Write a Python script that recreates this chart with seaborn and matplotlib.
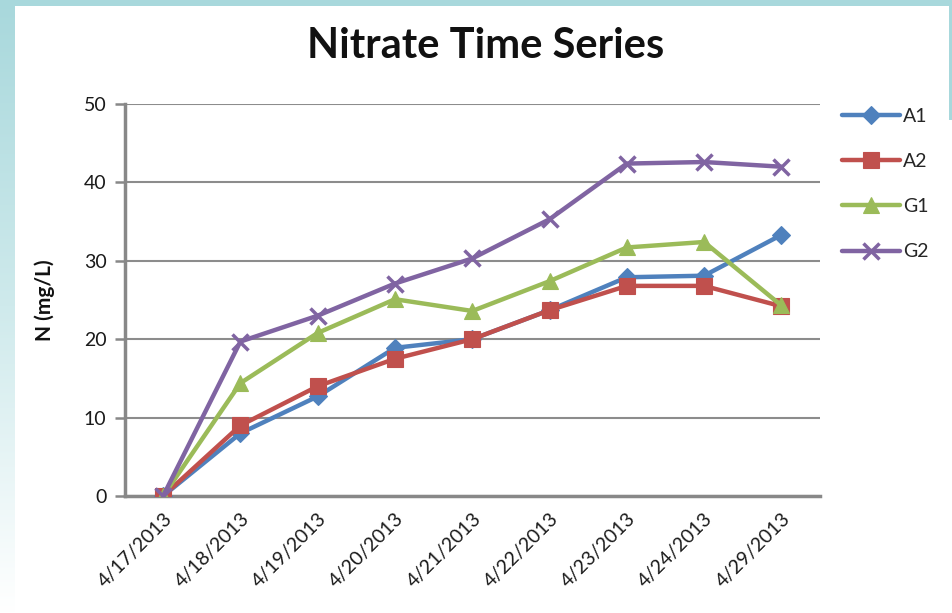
import numpy as np
import pandas as pd
import matplotlib
matplotlib.use("Agg")
import matplotlib.pyplot as plt
from matplotlib.colors import LinearSegmentedColormap
import seaborn as sns

# Sampling dates and nitrate concentrations (mg/L) per site
dates = ["4/17/2013", "4/18/2013", "4/19/2013", "4/20/2013", "4/21/2013",
         "4/22/2013", "4/23/2013", "4/24/2013", "4/29/2013"]
a1 = [0.0, 8.0, 12.7, 18.9, 20.0, 23.7, 27.9, 28.1, 33.3]
a2 = [0.0, 9.0, 14.0, 17.5, 20.0, 23.7, 26.8, 26.8, 24.2]
g1 = [0.0, 14.4, 20.8, 25.1, 23.6, 27.4, 31.7, 32.4, 24.3]
g2 = [0.0, 19.7, 23.0, 27.1, 30.3, 35.3, 42.4, 42.6, 42.0]
series_names = ["A1", "A2", "G1", "G2"]
y_ticks = [0, 10, 20, 30, 40, 50]

pos = np.arange(len(dates))
df = pd.DataFrame({"pos": np.tile(pos, 4),
                   "date": dates * 4,
                   "N": a1 + a2 + g1 + g2,
                   "site": np.repeat(series_names, len(dates))})

colors = {"A1": "#4F81BD", "A2": "#C0504D", "G1": "#9BBB59", "G2": "#8064A2"}
markers = {"A1": "D", "A2": "s", "G1": "^", "G2": "x"}
msizes = {"A1": 9, "A2": 11, "G1": 12, "G2": 12}

sns.set_style("white")
plt.rcParams["font.family"] = ["Lato", "DejaVu Sans"]

fig = plt.figure(figsize=(9.52, 6.13), dpi=100)
fig.patch.set_facecolor("white")

# Teal slide frame: top band, fading left band, thin right edge
teal = "#a8d8dc"
bg = fig.add_axes([0, 0, 1, 1], zorder=-10)
bg.set_xlim(0, 952)
bg.set_ylim(613, 0)
bg.axis("off")
fade = LinearSegmentedColormap.from_list("fade", [teal, "#cfeaec", "#ffffff"])
grad = np.linspace(0, 1, 256).reshape(-1, 1)
bg.imshow(grad, cmap=fade, extent=[0, 15, 613, 0], aspect="auto")
bg.fill_between([0, 952], 0, 6, color=teal, lw=0)
bg.fill_between([949, 952], 0, 120, color=teal, lw=0)

ax = fig.add_axes([124.5 / 952, 1 - 496 / 613, (820 - 124.5) / 952, 392 / 613])
ax.set_facecolor("none")

for name in series_names:
    sub = df[df["site"] == name]
    sns.lineplot(data=sub, x="pos", y="N", ax=ax, color=colors[name],
                 marker=markers[name], markersize=msizes[name],
                 markeredgewidth=2.5 if name == "G2" else 0.8,
                 markeredgecolor=colors[name], linewidth=3.2,
                 label=name, zorder=3)

ax.set_xlim(-0.5, len(dates) - 0.5)
ax.set_ylim(0, 50)
ax.set_yticks(y_ticks)
ax.set_yticklabels([str(t) for t in y_ticks], fontsize=14, color="#1a1a1a")
ax.set_xticks(pos)
ax.set_xticklabels(dates, rotation=45, ha="right", rotation_mode="anchor",
                   fontsize=14, color="#1a1a1a")
ax.set_xticks(np.arange(-0.5, len(dates), 1.0), minor=True)
ax.tick_params(axis="x", which="major", length=0, pad=10)
ax.tick_params(axis="x", which="minor", length=7, width=1.8, color="#888888",
               direction="out")
ax.tick_params(axis="y", length=7, width=1.8, color="#888888", direction="out",
               pad=6, left=True)

ax.grid(axis="y", color="#8c8c8c", linewidth=1.5)
ax.set_axisbelow(True)
for side in ["top", "right"]:
    ax.spines[side].set_visible(False)
for side in ["left", "bottom"]:
    ax.spines[side].set_color("#888888")
    ax.spines[side].set_linewidth(2.5)
ax.set_xlabel("")
ax.set_ylabel("")

fig.text(45 / 952, 1 - 300 / 613, "N (mg/L)", rotation=90, ha="center",
         va="center", fontsize=15, fontweight="bold", color="#111111")
fig.text(486 / 952, 1 - 46 / 613, "Nitrate Time Series", ha="center",
         va="center", fontsize=30, fontweight="bold", color="#111111")

leg = ax.legend(loc="upper left", bbox_to_anchor=(1.02, 1.01), frameon=False,
                fontsize=14, handlelength=3.0, handletextpad=0.15,
                labelspacing=1.45, borderaxespad=0)

fig.savefig("out.png", dpi=100, facecolor=fig.get_facecolor())
